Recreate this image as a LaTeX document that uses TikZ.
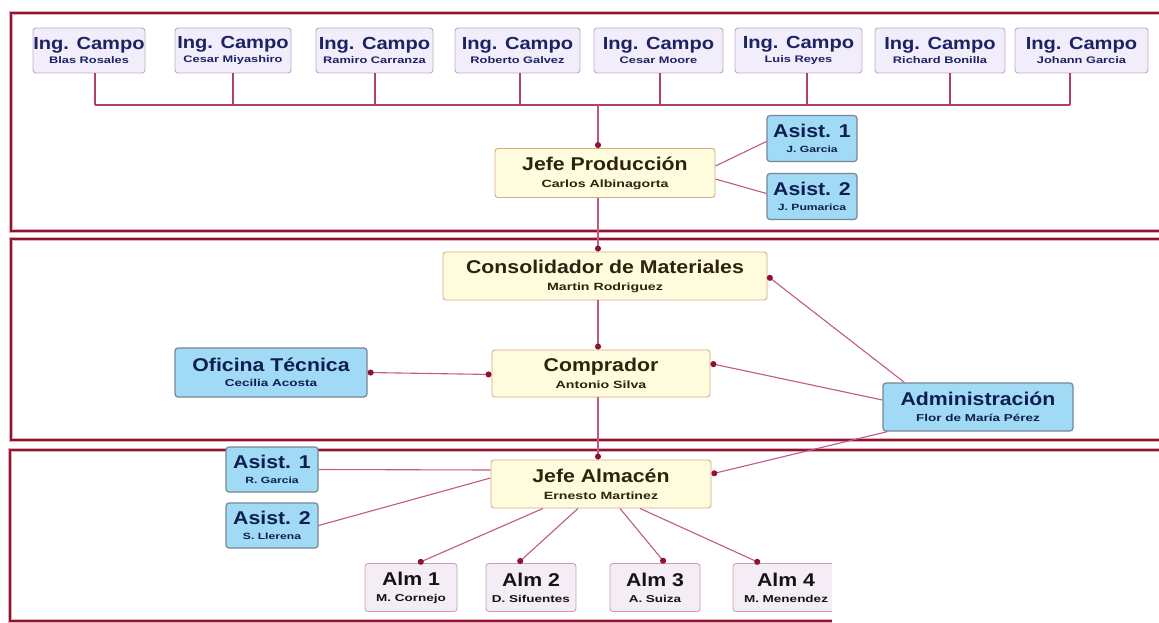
\documentclass[tikz,border=0pt]{standalone}
\usepackage{fontspec}
\setmainfont{Liberation Sans}
\newfontfamily\hdfont{Liberation Sans}[FakeStretch=1.15]
\newfontfamily\subfont{Liberation Sans}[FakeStretch=1.35]
\usetikzlibrary{arrows.meta}

\definecolor{framec}{RGB}{140,22,45}
\definecolor{framehalo}{RGB}{228,170,185}
\definecolor{linkc}{RGB}{192,88,136}
\definecolor{busc}{RGB}{178,64,104}
\definecolor{dotc}{RGB}{140,20,50}
\definecolor{ingfill}{RGB}{241,237,250}
\definecolor{ingdraw}{RGB}{200,168,200}
\definecolor{ingtext}{RGB}{28,34,100}
\definecolor{yelfill}{RGB}{255,252,222}
\definecolor{yeldraw}{RGB}{214,172,128}
\definecolor{yeltext}{RGB}{45,35,15}
\definecolor{bluefill}{RGB}{160,218,245}
\definecolor{bluedraw}{RGB}{118,134,150}
\definecolor{bluetext}{RGB}{14,30,82}
\definecolor{almfill}{RGB}{245,237,245}
\definecolor{almdraw}{RGB}{200,160,182}
\definecolor{almtext}{RGB}{20,20,20}

% two-line label: title size, gap, title, subtitle size, subtitle
\newcommand\lbl[5]{%
  {\hdfont\bfseries\fontsize{#1}{#1}\selectfont #3}\\[#2]%
  {\subfont\bfseries\fontsize{#4}{#4}\selectfont #5}}

\tikzset{
  box/.style={draw, rounded corners=3pt, line width=0.9pt, inner sep=0pt, align=center},
  ing/.style={box, fill=ingfill, draw=ingdraw, text=ingtext, minimum height=45pt},
  yel/.style={box, fill=yelfill, draw=yeldraw, text=yeltext, minimum height=48pt},
  blu/.style={box, fill=bluefill, draw=bluedraw, text=bluetext, line width=1.2pt, minimum height=46pt},
  alm/.style={box, fill=almfill, draw=almdraw, text=almtext, minimum height=48pt},
  framehalo/.style={draw=framehalo, line width=4.5pt},
  frameline/.style={draw=framec, line width=2.6pt},
  bus/.style={draw=busc, line width=1.1pt},
  link/.style={draw=linkc, line width=1.1pt},
  dot/.tip={Circle[length=6pt, color=dotc]},
}

\begin{document}
\begin{tikzpicture}[x=1pt, y=-1pt]
\useasboundingbox (0,0) rectangle (1159,623);
\fill[white] (0,0) rectangle (1159,623);

% section frames, open to the right
\foreach \t/\b/\l in {13/231/11, 239/440/11, 450/621/10}{
  \draw[framehalo] (1175,\t) -- (\l,\t) -- (\l,\b) -- (1175,\b);
  \draw[frameline] (1175,\t) -- (\l,\t) -- (\l,\b) -- (1175,\b);
}

% field engineers
\node[ing, minimum width=112] (i1) at (89,50.5)    {\lbl{17.5}{2pt}{Ing. Campo}{9.5}{Blas Rosales}};
\node[ing, minimum width=116] (i2) at (233,50.5)   {\lbl{17.5}{2pt}{Ing. Campo}{9.5}{Cesar Miyashiro}};
\node[ing, minimum width=117] (i3) at (374.5,50.5) {\lbl{17.5}{2pt}{Ing. Campo}{9.5}{Ramiro Carranza}};
\node[ing, minimum width=125] (i4) at (517.5,50.5) {\lbl{17.5}{2pt}{Ing. Campo}{9.5}{Roberto Galvez}};
\node[ing, minimum width=129] (i5) at (658.5,50.5) {\lbl{17.5}{2pt}{Ing. Campo}{9.5}{Cesar Moore}};
\node[ing, minimum width=127] (i6) at (798.5,50.5) {\lbl{17.5}{2pt}{Ing. Campo}{9.5}{Luis Reyes}};
\node[ing, minimum width=130] (i7) at (940,50.5)   {\lbl{17.5}{2pt}{Ing. Campo}{9.5}{Richard Bonilla}};
\node[ing, minimum width=133] (i8) at (1081.5,50.5){\lbl{17.5}{2pt}{Ing. Campo}{9.5}{Johann Garcia}};

% production
\node[yel, minimum width=220, minimum height=49] (jp) at (605,173) {\lbl{18.5}{5pt}{Jefe Producción}{10.5}{Carlos Albinagorta}};
\node[blu, minimum width=90] (pa1) at (812,138.5) {\lbl{18.5}{3pt}{Asist. 1}{9}{J. Garcia}};
\node[blu, minimum width=90] (pa2) at (812,196.5) {\lbl{18.5}{3pt}{Asist. 2}{9}{J. Pumarica}};

% purchasing
\node[yel, minimum width=324] (cons) at (605,276) {\lbl{18.5}{5pt}{Consolidador de Materiales}{10.5}{Martin Rodriguez}};
\node[yel, minimum width=218, minimum height=47] (comp) at (601,373.5) {\lbl{18.5}{5pt}{Comprador}{10.5}{Antonio Silva}};
\node[blu, minimum width=192, minimum height=49] (ofi) at (271,372.5) {\lbl{18.5}{3pt}{Oficina Técnica}{10}{Cecilia Acosta}};
\node[blu, minimum width=190, minimum height=48] (adm) at (978,407) {\lbl{18.5}{4pt}{Administración}{10}{Flor de María Pérez}};

% warehouse
\node[yel, minimum width=220] (ja) at (601,484) {\lbl{18.5}{5pt}{Jefe Almacén}{10.5}{Ernesto Martinez}};
\node[blu, minimum width=92, minimum height=45] (wa1) at (272,469.5) {\lbl{18.5}{3pt}{Asist. 1}{9}{R. Garcia}};
\node[blu, minimum width=92, minimum height=45] (wa2) at (272,525.5) {\lbl{18.5}{3pt}{Asist. 2}{9}{S. Llerena}};
\node[alm, minimum width=92]  (al1) at (411,587.5) {\lbl{18.5}{4pt}{Alm 1}{10}{M. Cornejo}};
\node[alm, minimum width=90]  (al2) at (531,587.5) {\lbl{18.5}{4pt}{Alm 2}{10}{D. Sifuentes}};
\node[alm, minimum width=90]  (al3) at (655,587.5) {\lbl{18.5}{4pt}{Alm 3}{10}{A. Suiza}};
\node[alm, minimum width=106] (al4) at (786,587.5) {\lbl{18.5}{4pt}{Alm 4}{10}{M. Menendez}};

% engineers' bus
\coordinate (v1) at (95,105);
\coordinate (v2) at (233,105);
\coordinate (v3) at (375,105);
\coordinate (v4) at (520,105);
\coordinate (v5) at (660,105);
\coordinate (v6) at (807,105);
\coordinate (v7) at (950,105);
\coordinate (v8) at (1070,105);
\coordinate (vj) at (598,105);
\draw[bus] (v1) -- (v8);
\foreach \k in {1,...,8}{
  \draw[bus] (i\k.south -| v\k) -- (v\k);
}

% main vertical chain
\draw[link, -dot] (vj) -- (vj |- jp.north);
\draw[link, -dot] (jp.south -| vj) -- (cons.north -| vj);
\draw[link, -dot] (cons.south -| vj) -- (comp.north -| vj);
\draw[link, -dot] (comp.south -| vj) -- (ja.north -| vj);

% assistants of production
\draw[link] ([yshift=7]jp.east) -- ([yshift=-3]pa1.west);
\draw[link] ([yshift=-6]jp.east) -- ([yshift=3]pa2.west);

% technical office
\draw[link, dot-dot] (ofi.east) -- ([yshift=-1]comp.west);

% administration
\draw[link, -dot] ([xshift=22]adm.north west) -- (cons.east);
\draw[link, -dot] ([yshift=7]adm.west) -- ([yshift=10]comp.east);
\draw[link, -dot] ([xshift=5]adm.south west) -- ([yshift=10]ja.east);

% warehouse assistants
\draw[link] (wa1.east) -- ([yshift=14]ja.west);
\draw[link] (wa2.east) -- ([yshift=6]ja.west);

% warehouses
\draw[link, -dot] ([xshift=-58]ja.south) -- ([xshift=7]al1.north);
\draw[link, -dot] ([xshift=-23]ja.south) -- ([xshift=-13]al2.north);
\draw[link, -dot] ([xshift=19]ja.south) -- ([xshift=10]al3.north);
\draw[link, -dot] ([xshift=39]ja.south) -- ([xshift=-26]al4.north);

% blank patch at the lower right
\fill[white] (832,553) rectangle (1159,623);
\end{tikzpicture}
\end{document}
